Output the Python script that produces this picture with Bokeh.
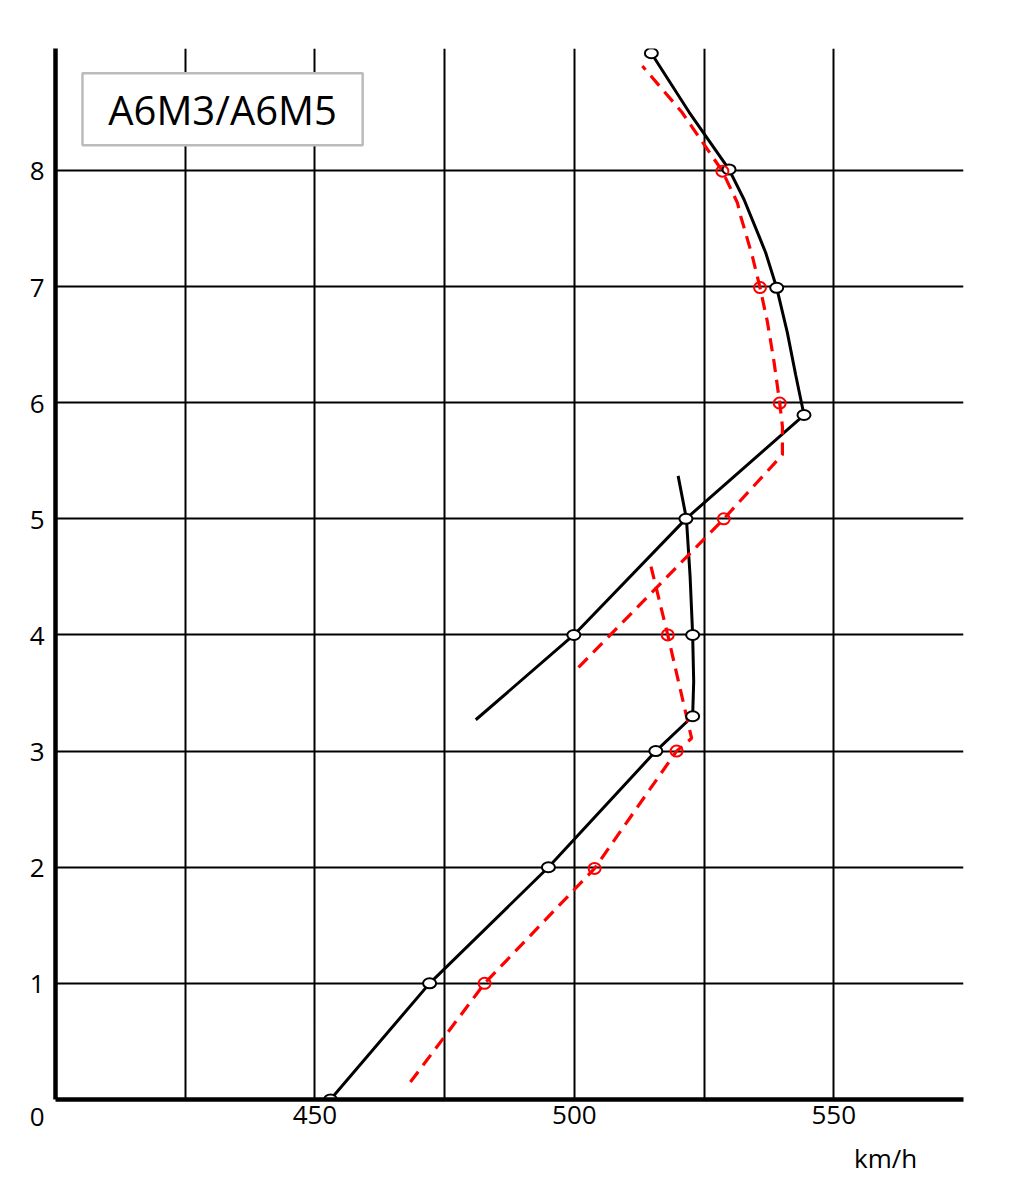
from bokeh.plotting import figure
from bokeh.models import Range1d, FixedTicker, Label, BoxAnnotation, LinearAxis
from bokeh.embed import file_html
from bokeh.resources import INLINE

# ---- data ----
# black (A6M3) : low-gear line + critical-altitude curve
black_low_x = [453.0, 472.1, 495.0, 515.7, 522.8, 523.0, 522.8, 522.3, 521.6, 520.0]
black_low_y = [0.0, 1.0, 2.0, 3.0, 3.30, 3.6, 4.0, 4.51, 5.0, 5.37]
# black : high-gear line + upper curve
black_high_x = [481.0, 499.9, 521.5, 544.26, 542.66, 541.06, 539.0, 536.88, 535.59,
                532.70, 529.81, 522.1, 514.84]
black_high_y = [3.27, 4.0, 5.0, 5.894, 6.239, 6.601, 6.989, 7.291, 7.434,
                7.750, 8.009, 8.503, 9.009]
black_pts_x = [453.0, 472.1, 495.0, 515.7, 522.8, 522.8, 521.5, 499.9, 544.26, 539.0, 529.81, 514.84]
black_pts_y = [0.0, 1.0, 2.0, 3.0, 3.30, 4.0, 5.0, 4.0, 5.894, 6.989, 8.009, 9.009]

# red (A6M5) dashed
red_low_x = [468.4, 482.7, 503.9, 519.7, 522.6, 518.0, 514.5]
red_low_y = [0.15, 1.0, 1.99, 3.0, 3.11, 4.0, 4.64]
red_high_x = [500.8, 528.8, 540.10, 540.10, 539.58, 538.48, 537.20, 535.78, 534.31,
              532.06, 531.42, 528.53, 520.7, 513.11]
red_high_y = [3.72, 5.0, 5.552, 5.796, 5.997, 6.353, 6.698, 6.991, 7.261,
              7.606, 7.722, 7.994, 8.503, 8.899]
red_pts_x = [482.7, 503.9, 519.7, 518.0, 528.8, 539.58, 535.78, 528.53]
red_pts_y = [1.0, 1.99, 3.0, 4.0, 5.0, 5.997, 6.991, 7.994]

x_grid = [425, 450, 475, 500, 525, 550]
x_ticks = [450, 500, 550]
y_grid = [1, 2, 3, 4, 5, 6, 7, 8]
y_ticks = [0, 1, 2, 3, 4, 5, 6, 7, 8]
title_text = "A6M3/A6M5"
unit_text = "km/h"
unit_pos = 560

FONT = "Open Sans"

p = figure(frame_width=908, frame_height=1051,
           min_border_left=55, min_border_right=53,
           min_border_top=48, min_border_bottom=91,
           x_range=Range1d(400, 575), y_range=Range1d(0, 9.05),
           output_backend="svg", toolbar_location=None,
           background_fill_color="white", border_fill_color="white")
p.outline_line_color = None

# grids
p.xgrid.ticker = FixedTicker(ticks=x_grid)
p.ygrid.ticker = FixedTicker(ticks=y_grid)
for g in (p.xgrid, p.ygrid):
    g.grid_line_color = "black"
    g.grid_line_width = 2
    g.grid_line_alpha = 1.0

# axes
p.xaxis.ticker = FixedTicker(ticks=x_ticks)
p.yaxis.ticker = FixedTicker(ticks=y_ticks)
p.yaxis.major_label_overrides = {0: "\n0"}
p.yaxis.major_label_text_line_height = 0.9
for ax in (p.xaxis, p.yaxis):
    ax.axis_line_color = "black"
    ax.axis_line_width = 4.5
    ax.major_tick_out = 0
    ax.major_tick_in = 0
    ax.minor_tick_out = 0
    ax.minor_tick_in = 0
    ax.major_label_text_font = FONT
    ax.major_label_text_font_size = "26px"
    ax.major_label_text_color = "black"
p.xaxis.major_label_standoff = 6
p.yaxis.major_label_standoff = 11

# unit label as a second, line-less bottom axis
unit_axis = LinearAxis(ticker=FixedTicker(ticks=[unit_pos]),
                       major_label_overrides={unit_pos: unit_text})
unit_axis.axis_line_color = None
unit_axis.major_tick_out = 0
unit_axis.major_tick_in = 0
unit_axis.minor_tick_out = 0
unit_axis.minor_tick_in = 0
unit_axis.major_label_standoff = 13
unit_axis.major_label_text_font = FONT
unit_axis.major_label_text_font_size = "26px"
unit_axis.major_label_text_color = "black"
p.add_layout(unit_axis, "below")

# series
p.line(black_low_x, black_low_y, line_color="black", line_width=3)
p.line(black_high_x, black_high_y, line_color="black", line_width=3)
p.line(red_low_x, red_low_y, line_color="#ff0000", line_width=3.2, line_dash="13 8")
p.line(red_high_x, red_high_y, line_color="#ff0000", line_width=3.2, line_dash="13 8")

p.ellipse(black_pts_x, black_pts_y, width=13, height=10,
          width_units="screen", height_units="screen",
          fill_color="white", line_color="black", line_width=2)
p.ellipse(red_pts_x, red_pts_y, width=12, height=11,
          width_units="screen", height_units="screen",
          fill_color=None, line_color="#ff0000", line_width=2)

# title box
p.add_layout(BoxAnnotation(left=405.2, right=459.2, bottom=8.216, top=8.836,
                           fill_color="white", fill_alpha=1.0,
                           line_color="#bbbbbb", line_width=2.5, line_alpha=1.0))
p.add_layout(Label(x=432.2, y=8.526, text=title_text, text_align="center",
                   text_baseline="middle", text_font=FONT,
                   text_font_size="40px", text_color="black"))

open("out.html", "w").write(file_html(p, INLINE))
